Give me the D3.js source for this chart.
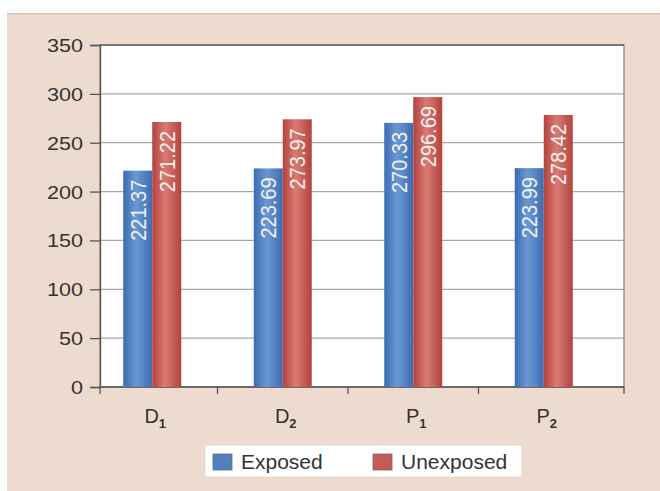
<!DOCTYPE html>
<html>
<head>
<meta charset="utf-8">
<script src="https://cdn.jsdelivr.net/npm/d3@7"></script>
<style>
  body { margin: 0; background: #fff; }
  svg { display: block; font-family: "Liberation Sans", Arial, sans-serif; }
</style>
</head>
<body>
<div id="chart"></div>
<script>
// data
var categories = ["D", "D", "P", "P"];
var subscripts = ["1", "2", "1", "2"];
var exposed = [221.37, 223.69, 270.33, 223.99];
var unexposed = [271.22, 273.97, 296.69, 278.42];
var seriesNames = ["Exposed", "Unexposed"];
var yTicks = [0, 50, 100, 150, 200, 250, 300, 350];

var W = 660, H = 491;

var svg = d3.select("#chart").append("svg")
  .attr("width", W).attr("height", H);

// gradients for the bars (Excel 2007 look)
var defs = svg.append("defs");
function grad(id, edge, mid) {
  var g = defs.append("linearGradient").attr("id", id)
    .attr("x1", "0%").attr("x2", "100%").attr("y1", "0%").attr("y2", "0%");
  g.append("stop").attr("offset", "0%").attr("stop-color", edge);
  g.append("stop").attr("offset", "45%").attr("stop-color", mid);
  g.append("stop").attr("offset", "100%").attr("stop-color", edge);
}
grad("gBlue", "#3c6cb2", "#6b98d4");
grad("gRed", "#b4413c", "#d97b73");
var fills = ["url(#gBlue)", "url(#gRed)"];
var swatch = ["#4f7fc0", "#c65a55"];

// outer panel
svg.append("rect").attr("x", 7).attr("y", 13).attr("width", W - 7).attr("height", H - 13)
  .attr("fill", "#eedbcf");
svg.append("rect").attr("x", 7).attr("y", 13).attr("width", W - 7).attr("height", 1.5)
  .attr("fill", "#d9c2b6");

// plot area
var plot = {left: 100, right: 624, top: 45, bottom: 387};

var y = d3.scaleLinear().domain([0, 350]).range([plot.bottom, plot.top]);

// bars in the picture sit a little left of the frame (scan skew)
var x = d3.scaleBand().domain(d3.range(categories.length))
  .range([87, 609]).paddingInner(0).paddingOuter(0);
var xs = d3.scaleBand().domain([0, 1])
  .range([x.bandwidth() / 2 - 29, x.bandwidth() / 2 + 29]);

svg.append("rect")
  .attr("x", plot.left).attr("y", plot.top)
  .attr("width", plot.right - plot.left).attr("height", plot.bottom - plot.top)
  .attr("fill", "#fff");

// grid lines
svg.append("g").selectAll("line").data(yTicks.slice(1, -1)).join("line")
  .attr("x1", plot.left).attr("x2", plot.right)
  .attr("y1", d => y(d)).attr("y2", d => y(d))
  .attr("stroke", "#a8a8a8").attr("stroke-width", 1.2);

// frame
svg.append("rect")
  .attr("x", plot.left).attr("y", plot.top)
  .attr("width", plot.right - plot.left).attr("height", plot.bottom - plot.top)
  .attr("fill", "none").attr("stroke", "#8a8a8a").attr("stroke-width", 1.3);
svg.append("line").attr("x1", plot.left).attr("x2", plot.right)
  .attr("y1", plot.top).attr("y2", plot.top)
  .attr("stroke", "#666").attr("stroke-width", 1.3);

// y axis (labels stretched wide like the scan)
var yAxis = svg.append("g")
  .attr("transform", "translate(" + plot.left + ",0)")
  .call(d3.axisLeft(y).tickValues(yTicks).tickSize(10));
yAxis.select(".domain").attr("stroke", "#555").attr("stroke-width", 1.3);
yAxis.selectAll(".tick line").attr("stroke", "#555").attr("stroke-width", 1.3);
yAxis.selectAll("text")
  .attr("x", 0).attr("dy", "0.36em")
  .attr("transform", "translate(-17,0) scale(1.2,1)")
  .attr("fill", "#333").style("font-size", "18px");

// x axis ticks at category boundaries
var bounds = [plot.left].concat(d3.range(1, categories.length).map(i => x(i)), [plot.right]);
svg.append("line").attr("x1", plot.left).attr("x2", plot.right)
  .attr("y1", plot.bottom).attr("y2", plot.bottom)
  .attr("stroke", "#555").attr("stroke-width", 1.3);
svg.append("g").selectAll("line").data(bounds).join("line")
  .attr("x1", d => d).attr("x2", d => d)
  .attr("y1", plot.bottom).attr("y2", plot.bottom + 7)
  .attr("stroke", "#555").attr("stroke-width", 1.3);

// bars
var rows = categories.map((c, i) => ({i: i, vals: [exposed[i], unexposed[i]]}));
var groups = svg.append("g").selectAll("g").data(rows).join("g")
  .attr("transform", d => "translate(" + x(d.i) + ",0)");

groups.selectAll("rect").data(d => d.vals.map((v, k) => ({v: v, k: k}))).join("rect")
  .attr("x", d => xs(d.k))
  .attr("y", d => y(d.v))
  .attr("width", xs.bandwidth())
  .attr("height", d => plot.bottom - y(d.v))
  .attr("fill", d => fills[d.k]);

// value labels, rotated inside the bars
groups.selectAll("text").data(d => d.vals.map((v, k) => ({v: v, k: k}))).join("text")
  .attr("transform", d => "translate(" + (xs(d.k) + xs.bandwidth() / 2 + 8) + "," + (y(d.v) + 9) + ") rotate(-90) scale(1,1.1)")
  .attr("text-anchor", "end")
  .attr("fill", "#f2f2f2")
  .style("font-size", "20px")
  .text(d => d.v.toFixed(2));

// category labels with subscripts
var xl = svg.append("g").selectAll("text").data(categories).join("text")
  .attr("x", (d, i) => x(i) + x.bandwidth() / 2 + 3)
  .attr("y", 423)
  .attr("text-anchor", "middle")
  .attr("fill", "#333")
  .style("font-size", "20px");
xl.append("tspan").text(d => d);
xl.append("tspan").attr("dy", 5).style("font-size", "13px").style("font-weight", "bold")
  .text((d, i) => subscripts[i]);

// legend
var leg = svg.append("g");
leg.append("rect").attr("x", 205).attr("y", 445).attr("width", 317).attr("height", 32)
  .attr("fill", "#fff").attr("stroke", "#e4d6cf");
var legX = [213, 373];
seriesNames.forEach(function (name, k) {
  leg.append("rect").attr("x", legX[k]).attr("y", 454).attr("width", 19).attr("height", 16)
    .attr("fill", swatch[k]).attr("stroke", "#6d6d6d").attr("stroke-width", 0.8);
  leg.append("text").attr("x", legX[k] + 28).attr("y", 469)
    .attr("fill", "#333").style("font-size", "21px").text(name);
});
</script>
</body>
</html>
